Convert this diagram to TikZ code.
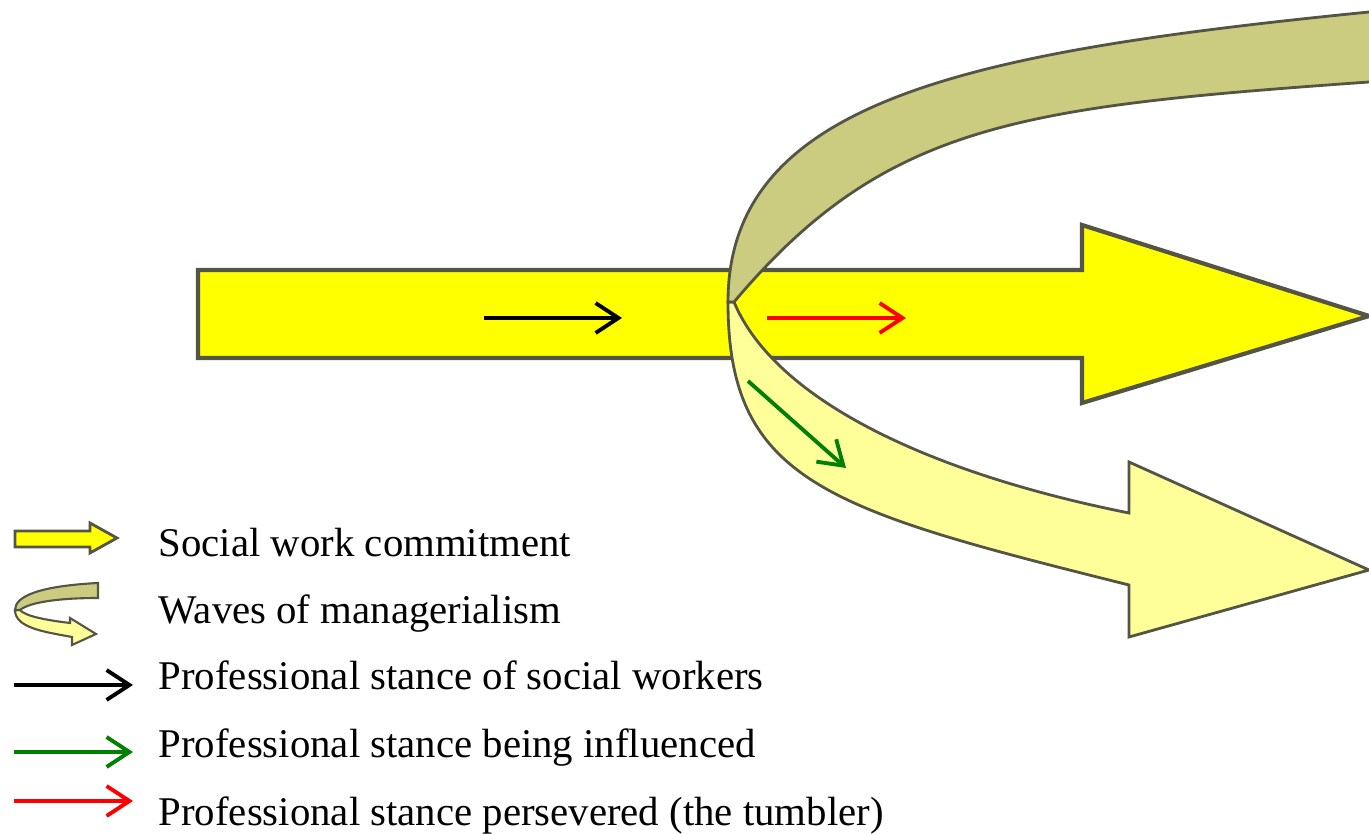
\documentclass[tikz,border=0pt]{standalone}
\usepackage{fontspec}
\setmainfont{Liberation Serif}
\usepackage{tikz}
\usetikzlibrary{arrows.meta}

\definecolor{barYellow}{RGB}{255,255,0}
\definecolor{waveDark}{RGB}{204,204,128}
\definecolor{waveLight}{RGB}{255,255,153}
\definecolor{edgeGrey}{RGB}{85,85,70}
\definecolor{stanceGreen}{RGB}{0,128,0}

\begin{document}
\begin{tikzpicture}[
                            x=0.01cm,
                            y=-0.01cm,
                            >={Straight Barb[length=6.5pt,width=8.5pt]},
                            line join=miter
                        ]
                        \tikzstyle{commitment}=[fill=barYellow,draw=edgeGrey,line width=1.2pt]
                        \tikzstyle{wave top}=[fill=waveDark,draw=edgeGrey,line width=0.8pt]
                        \tikzstyle{wave low}=[fill=waveLight,draw=edgeGrey,line width=0.8pt]
                        \tikzstyle{stance}=[->,line width=1.1pt]
                        \tikzstyle{legend text}=[anchor=base west,inner sep=0pt,font=\fontsize{11.6}{14}\selectfont]

                        \useasboundingbox (0,0) rectangle (1369,834);
                        \clip (0,0) rectangle (1369,834);

                        % social work commitment
                        \draw[commitment] (198,270) -- (1082,270) -- (1082,225) -- (1369,316)
                            -- (1082,403) -- (1082,358) -- (198,358) -- cycle;

                        % waves of managerialism
                        \draw[wave low] (728,302) .. controls (728,482) and (829,510) .. (1129,585)
                            -- (1129,637) -- (1369,570) -- (1129,462) -- (1129,513)
                            .. controls (929,473) and (775,400) .. (734,302) -- cycle;
                        \fill[waveDark] (1369,12) .. controls (969,52) and (728,100) .. (728,302)
                            -- (734,302) .. controls (885,123) and (1019,107) .. (1369,82)
                            -- (1420,80) -- (1420,8) -- cycle;
                        \draw[wave top,fill=none] (1369,12) .. controls (969,52) and (728,100) .. (728,302)
                            -- (734,302) .. controls (885,123) and (1019,107) .. (1369,82);

                        % stances
                        \coordinate (S1) at (484,318);
                        \coordinate (S2) at (622,318);
                        \coordinate (P1) at (767,318);
                        \coordinate (P2) at (906,318);
                        \coordinate (I1) at (748,381);
                        \coordinate (I2) at (846,468);
                        \draw[stance,black]       (S1) -- (S2);
                        \draw[stance,red]         (P1) -- (P2);
                        \draw[stance,stanceGreen] (I1) -- (I2);

                        % legend
                        \draw[commitment,line width=0.8pt] (15,531) -- (90,531) -- (90,523) -- (117,538)
                            -- (90,553) -- (90,547) -- (15,547) -- cycle;
                        \draw[wave low,line width=0.6pt] (15,610) .. controls (15,628) and (45,632) .. (72,637)
                            -- (72,645) -- (96,634) -- (70,618) -- (70,623)
                            .. controls (45,620) and (25,616) .. (20,610) -- cycle;
                        \draw[wave top,line width=0.6pt] (98,583) .. controls (40,586) and (15,596) .. (15,610)
                            -- (20,610) .. controls (30,602) and (60,598) .. (98,598) -- cycle;

                        \coordinate (L1) at (14,685);
                        \coordinate (L2) at (133,685);
                        \coordinate (L3) at (14,752);
                        \coordinate (L4) at (133,752);
                        \coordinate (L5) at (14,801);
                        \coordinate (L6) at (133,801);
                        \draw[stance,black]       (L1) -- (L2);
                        \draw[stance,stanceGreen] (L3) -- (L4);
                        \draw[stance,red]         (L5) -- (L6);

                        \node[legend text] (lcommit)     at (158,557) {Social work commitment};
                        \node[legend text] (lwaves)      at (158,624) {Waves of managerialism};
                        \node[legend text] (lstance)     at (158,690) {Professional stance of social workers};
                        \node[legend text] (linfluenced) at (158,758) {Professional stance being influenced};
                        \node[legend text] (lpersevered) at (158,826) {Professional stance persevered (the tumbler)};
                    \end{tikzpicture}
\end{document}
